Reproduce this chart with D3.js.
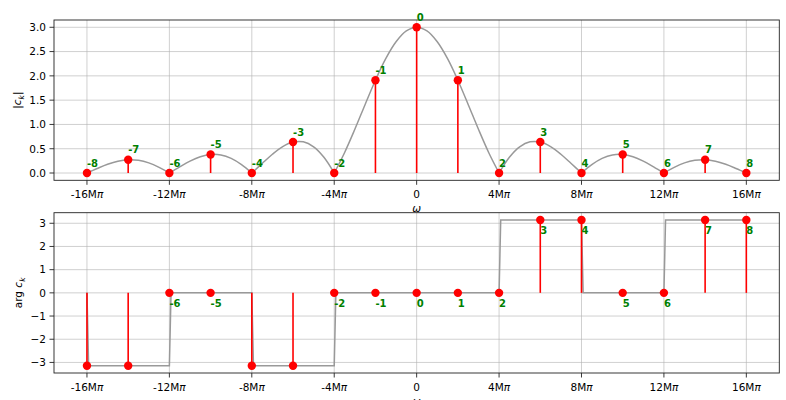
<!DOCTYPE html>
<html>
<head>
<meta charset="utf-8">
<script src="https://cdn.jsdelivr.net/npm/d3@7"></script>
<style>
  html, body { margin: 0; padding: 0; background: #fff; }
  svg { display: block; font-family: "DejaVu Sans", sans-serif; }
</style>
</head>
<body>
<svg id="chart" width="786" height="400"></svg>
<script>
// ---- Data (ω in units of Mπ) ----
const harmonics = [-8,-7,-6,-5,-4,-3,-2,-1,0,1,2,3,4,5,6,7,8];
const omegaK = [-16,-14,-12,-10,-8,-6,-4,-2,0,2,4,6,8,10,12,14,16];
const magnitudeK = [0,0.273,0,0.382,0,0.637,0,1.910,3.000,1.910,0,0.637,0,0.382,0,0.273,0];
const phaseK = [-3.1416,-3.1416,0,0,-3.1416,-3.1416,0,0,0,0,0,3.1416,3.1416,0,0,3.1416,3.1416];

// continuous envelope |c(ω)|, sampled every 0.5 Mπ from -16 to 16
const envOmega = [
  -16,-15.5,-15,-14.5,-14,-13.5,-13,-12.5,-12,-11.5,-11,-10.5,-10,-9.5,-9,-8.5,
  -8,-7.5,-7,-6.5,-6,-5.5,-5,-4.5,-4,-3.5,-3,-2.5,-2,-1.5,-1,-0.5,
  0,0.5,1,1.5,2,2.5,3,3.5,4,4.5,5,5.5,6,6.5,7,7.5,
  8,8.5,9,9.5,10,10.5,11,11.5,12,12.5,13,13.5,14,14.5,15,15.5,16
];
const envMag = [
  0,0.094,0.180,0.243,0.273,0.261,0.208,0.117,0,0.127,0.246,0.336,0.382,0.371,0.300,0.172,
  0,0.195,0.386,0.543,0.637,0.642,0.540,0.325,0,0.418,0.900,1.412,1.910,2.353,2.701,2.924,
  3.000,2.924,2.701,2.353,1.910,1.412,0.900,0.418,0,0.325,0.540,0.642,0.637,0.543,0.386,0.195,
  0,0.172,0.300,0.371,0.382,0.336,0.246,0.127,0,0.117,0.208,0.261,0.273,0.243,0.180,0.094,0
];

// continuous phase arg c(ω)
const phaseCurveOmega = [-16,-15.92,-12,-11.92,-8,-7.92,-4,-3.92,4,4.08,8,8.08,12,12.08,16];
const phaseCurveValue = [0,-3.1416,-3.1416,0,0,-3.1416,-3.1416,0,0,3.1416,3.1416,0,0,3.1416,3.1416];

const xTicks = [-16,-12,-8,-4,0,4,8,12,16];
const xTickLabels = ["-16M","-12M","-8M","-4M","0","4M","8M","12M","16M"];
const magTicks = [0,0.5,1,1.5,2,2.5,3];
const magTickLabels = ["0.0","0.5","1.0","1.5","2.0","2.5","3.0"];
const phaseTicks = [-3,-2,-1,0,1,2,3];
const phaseTickLabels = ["\u22123","\u22122","\u22121","0","1","2","3"];

// ---- Layout ----
const svg = d3.select("#chart");
const L = 54, R = 779.3;
const panels = [
  {top: 20, bottom: 180.3, domain: [-0.15, 3.15], ticks: magTicks, tickLabels: magTickLabels, vals: magnitudeK, labelBelow: false, ylab: "mag"},
  {top: 212.7, bottom: 373, domain: [-3.4558, 3.4558], ticks: phaseTicks, tickLabels: phaseTickLabels, vals: phaseK, labelBelow: true, ylab: "arg"}
];

const x = d3.scaleLinear().domain([-17.6, 17.6]).range([L, R]);

panels.forEach((p, pi) => {
  const y = d3.scaleLinear().domain(p.domain).range([p.bottom, p.top]);
  const g = svg.append("g");
  const clipId = "clip" + pi;
  svg.append("clipPath").attr("id", clipId).append("rect")
    .attr("x", L).attr("y", p.top).attr("width", R - L).attr("height", p.bottom - p.top);

  // grid
  g.append("g").selectAll("line").data(xTicks).join("line")
    .attr("x1", d => x(d)).attr("x2", d => x(d)).attr("y1", p.top).attr("y2", p.bottom)
    .attr("stroke", "#b0b0b0").attr("stroke-opacity", 0.6).attr("stroke-width", 1);
  g.append("g").selectAll("line").data(p.ticks).join("line")
    .attr("x1", L).attr("x2", R).attr("y1", d => y(d)).attr("y2", d => y(d))
    .attr("stroke", "#b0b0b0").attr("stroke-opacity", 0.6).attr("stroke-width", 1);

  // curve
  const line = d3.line().x(d => x(d[0])).y(d => y(d[1]));
  const cg = g.append("g").attr("clip-path", `url(#${clipId})`);
  if (pi === 0) {
    const lobes = [];
    let cur = [];
    envOmega.forEach((w, i) => {
      cur.push([w, envMag[i]]);
      if (envMag[i] === 0 && cur.length > 1) { lobes.push(cur); cur = [[w, envMag[i]]]; }
    });
    const smooth = d3.line().x(d => x(d[0])).y(d => y(d[1])).curve(d3.curveCatmullRom.alpha(0.5));
    lobes.forEach(lb => {
      cg.append("path").attr("d", smooth(lb)).attr("fill", "none")
        .attr("stroke", "#999999").attr("stroke-width", 1.5);
    });
  } else {
    cg.append("path").attr("d", line(phaseCurveOmega.map((w, i) => [w, phaseCurveValue[i]])))
      .attr("fill", "none").attr("stroke", "#999999").attr("stroke-width", 1.5);
  }

  // stems
  g.append("g").selectAll("line").data(omegaK).join("line")
    .attr("x1", d => x(d)).attr("x2", d => x(d))
    .attr("y1", y(0)).attr("y2", (d, i) => y(p.vals[i]))
    .attr("stroke", "#ff0000").attr("stroke-width", 1.6);
  // markers
  g.append("g").selectAll("circle").data(omegaK).join("circle")
    .attr("cx", d => x(d)).attr("cy", (d, i) => y(p.vals[i])).attr("r", 4.2)
    .attr("fill", "#ff0000");

  // spines
  g.append("rect").attr("x", L).attr("y", p.top).attr("width", R - L).attr("height", p.bottom - p.top)
    .attr("fill", "none").attr("stroke", "#222").attr("stroke-width", 0.9);

  // x ticks
  const xt = g.append("g").selectAll("g").data(xTicks).join("g")
    .attr("transform", d => `translate(${x(d)},${p.bottom})`);
  xt.append("line").attr("y1", 0).attr("y2", 4.5).attr("stroke", "#222").attr("stroke-width", 0.9);
  const xtt = xt.append("text").attr("y", 18).attr("text-anchor", "middle")
    .attr("font-size", 10.5).attr("fill", "#000");
  xtt.append("tspan").text((d, i) => xTickLabels[i]);
  xtt.filter((d, i) => xTickLabels[i] !== "0").append("tspan").attr("font-style", "italic").text("\u03c0");

  // y ticks
  const yt = g.append("g").selectAll("g").data(p.ticks).join("g")
    .attr("transform", d => `translate(${L},${y(d)})`);
  yt.append("line").attr("x1", 0).attr("x2", -4.5).attr("stroke", "#222").attr("stroke-width", 0.9);
  yt.append("text").attr("x", -8).attr("dy", "0.36em").attr("text-anchor", "end")
    .attr("font-size", 10.5).attr("fill", "#000").text((d, i) => p.tickLabels[i]);

  // harmonic labels (only drawn when the label anchor lies inside the axes, like annotation clipping)
  const labelPos = (i) => p.labelBelow ? y(p.vals[i]) + 14.5 : y(p.vals[i]) - 6.5;
  const shown = harmonics.map((h, i) => i).filter(i => labelPos(i) >= p.top - 5 && labelPos(i) <= p.bottom);
  g.append("g").selectAll("text").data(shown).join("text")
    .attr("x", i => x(omegaK[i]))
    .attr("y", i => labelPos(i))
    .attr("font-size", 10).attr("font-weight", "bold").attr("fill", "#008000")
    .text(i => String(harmonics[i]));

  // x label
  svg.append("text").attr("x", (L + R) / 2).attr("y", p.bottom + 31.5).attr("text-anchor", "middle")
    .attr("font-size", 10.5).attr("font-style", "italic").text("\u03c9");

  // y label
  const cy = (p.top + p.bottom) / 2;
  const yl = svg.append("text").attr("transform", `translate(${pi === 0 ? 21 : 22},${cy}) rotate(-90)`)
    .attr("text-anchor", "middle").attr("font-size", 10.5);
  if (p.ylab === "mag") {
    yl.append("tspan").text("|");
    yl.append("tspan").attr("font-style", "italic").text("c");
    yl.append("tspan").attr("font-style", "italic").attr("font-size", 7.5).attr("dy", 2.5).text("k");
    yl.append("tspan").attr("dy", -2.5).text("|");
  } else {
    yl.append("tspan").text("arg ");
    yl.append("tspan").attr("font-style", "italic").text("c");
    yl.append("tspan").attr("font-style", "italic").attr("font-size", 7.5).attr("dy", 2.5).text("k");
  }
});
</script>
</body>
</html>
